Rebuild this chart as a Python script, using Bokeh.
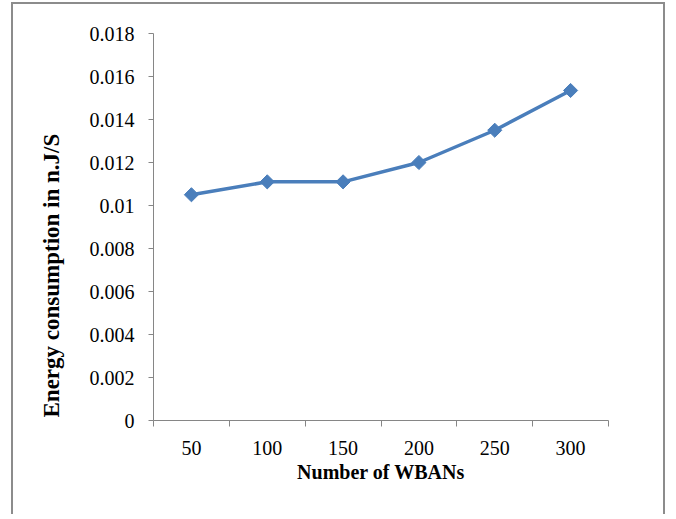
import math
from bokeh.plotting import figure
from bokeh.models import Range1d, FixedTicker, Title
from bokeh.embed import file_html
from bokeh.resources import INLINE

# ---- data ----
categories = ["50", "100", "150", "200", "250", "300"]
energy = [0.0105, 0.0111, 0.0111, 0.0120, 0.0135, 0.01535]
y_ticks = [0, 0.002, 0.004, 0.006, 0.008, 0.01, 0.012, 0.014, 0.016, 0.018]
y_tick_labels = ["0", "0.002", "0.004", "0.006", "0.008", "0.01", "0.012", "0.014", "0.016", "0.018"]
x_title = "Number of WBANs"
y_title = "Energy consumption in n.J/S"

FONT = "Liberation Serif"
BLUE = "#4A7EBB"
AXIS_GRAY = "#868686"

n = len(categories)
x_pos = [i + 0.5 for i in range(n)]          # category centres
x_bounds = [float(i) for i in range(n + 1)]  # category boundaries

p = figure(width=654, height=512, output_backend="svg", toolbar_location=None,
           x_range=Range1d(0, n), y_range=Range1d(y_ticks[0], y_ticks[-1]),
           min_border_left=137, min_border_right=59, min_border_top=29, min_border_bottom=96,
           styles={"border-left": "2px solid #8c8c8c", "border-top": "2px solid #8c8c8c",
                   "border-right": "2px solid #8c8c8c",
                   "margin-left": "11px", "margin-top": "2px"})
p.outline_line_color = None
p.xgrid.grid_line_color = None
p.ygrid.grid_line_color = None
p.background_fill_color = "white"
p.border_fill_color = "white"

# x axis: labels at category centres, ticks at boundaries
xa = p.xaxis[0]
xa.ticker = FixedTicker(ticks=x_pos, minor_ticks=x_bounds)
xa.major_label_overrides = {x: c for x, c in zip(x_pos, categories)}
xa.major_tick_out = 0
xa.major_tick_in = 0
xa.minor_tick_out = 6
xa.minor_tick_in = 0
xa.minor_tick_line_color = AXIS_GRAY
xa.axis_line_color = AXIS_GRAY
xa.major_label_text_font = FONT
xa.major_label_text_font_size = "20px"
xa.major_label_text_color = "black"
xa.major_label_standoff = 14
xa.axis_label = x_title
xa.axis_label_text_font = FONT
xa.axis_label_text_font_size = "20px"
xa.axis_label_text_font_style = "bold"
xa.axis_label_text_color = "black"
xa.axis_label_standoff = 3

ya = p.yaxis[0]
ya.ticker = FixedTicker(ticks=y_ticks, minor_ticks=[])
ya.major_label_overrides = {t: s for t, s in zip(y_ticks, y_tick_labels)}
ya.major_tick_out = 5
ya.major_tick_in = 0
ya.major_tick_line_color = AXIS_GRAY
ya.minor_tick_line_color = None
ya.axis_line_color = AXIS_GRAY
ya.major_label_text_font = FONT
ya.major_label_text_font_size = "20px"
ya.major_label_text_color = "black"
ya.major_label_standoff = 14

t = Title(text=y_title, align="left", offset=3, standoff=46,
          text_font=FONT, text_font_size="23px", text_font_style="bold",
          text_color="black")
p.add_layout(t, "left")

p.line(x_pos, energy, line_color=BLUE, line_width=3.5)
p.scatter(x_pos, energy, marker="square", angle=math.pi / 4, size=10,
          fill_color=BLUE, line_color=BLUE)

open("out.html", "w").write(file_html(p, INLINE))
